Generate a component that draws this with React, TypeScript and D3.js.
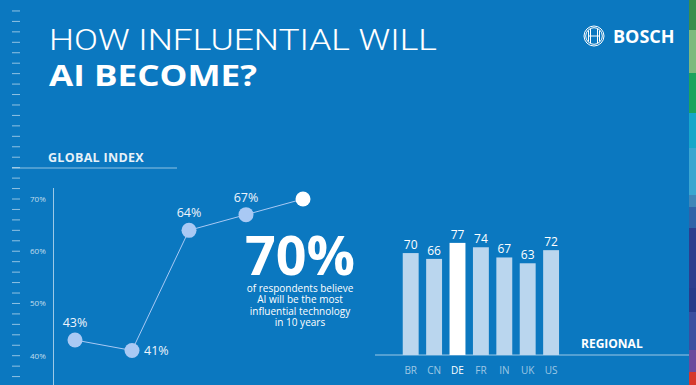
import * as d3 from 'd3';

// global index (share of respondents, %)
const indexSteps = [0, 1, 2, 3, 4];
const indexValues = [43, 41, 64, 67, 70];
const indexTicks = [40, 50, 60, 70];

// regional values
const countries = ['BR', 'CN', 'DE', 'FR', 'IN', 'UK', 'US'];
const regional = [70, 66, 77, 74, 67, 63, 72];
const highlight = 'DE';

const stripeColors = [
  '#3a8d4c', '#7dba7e', '#1ca35d', '#17a7c9', '#3aa6d0', '#3f86b8',
  '#3063a8', '#2c3e8e', '#283b8a', '#3b4fa0', '#6a4b9d', '#d7382b',
];
const stripeStops = [0, 30, 73, 113, 148, 195, 207, 228, 288, 312, 350, 372, 385];

const subText = [
  'of respondents believe',
  'AI will be the most',
  'influential technology',
  'in 10 years',
];

const W = 696;
const H = 385;
const BG = '#0b78c0';
const PALE = '#a9c9f4';
const BAR = '#bad6ee';
const FONT = "'Open Sans', 'DejaVu Sans', sans-serif";

export default function App() {
  const x = d3.scalePoint<number>().domain(indexSteps).range([75, 303]);
  const y = d3.scaleLinear().domain([40, 70]).range([355.7, 199]);
  const minor = d3.range(34, 108, 2);

  const line = d3.line<number>()
    .x((_, i) => x(indexSteps[i]) ?? 0)
    .y(d => y(d));

  const xb = d3.scaleBand<string>()
    .domain(countries)
    .range([399, 562.8])
    .paddingInner(0.32)
    .paddingOuter(0.16);
  const yb = d3.scaleLinear().domain([0, 100]).range([355, 209.4]);

  return (
    <svg width={W} height={H} style={{ position: 'absolute', left: 0, top: 0 }} fontFamily={FONT}>
      <rect width={W} height={H} fill={BG} />

      {/* colour stripe on the right */}
      {stripeColors.map((c, i) => (
        <rect key={c + i} x={689} y={stripeStops[i]} width={7} height={stripeStops[i + 1] - stripeStops[i]} fill={c} />
      ))}

      {/* ruler ticks on the left */}
      {minor.map(v => (
        <line key={v} x1={12} x2={20} y1={y(v)} y2={y(v)} stroke="rgba(255,255,255,0.55)" strokeWidth={1} />
      ))}

      {/* title */}
      <text x={49} y={50} fill="#fff" fontSize={30} fontWeight={300} fontFamily="Roboto, sans-serif"
        textLength={388} lengthAdjust="spacingAndGlyphs">
        HOW INFLUENTIAL WILL
      </text>
      <text x={49} y={86} fill="#fff" fontSize={29} fontWeight={700} textLength={208} lengthAdjust="spacingAndGlyphs">
        AI BECOME?
      </text>

      {/* logo */}
      <g stroke="#fff" fill="none" strokeWidth={1}>
        <circle cx={594} cy={36} r={10} />
        <circle cx={594} cy={36} r={8.3} />
        <path d="M588.5,30.5 v11 M599.5,30.5 v11 M588.5,36 h11" />
        <path d="M590.5,29 v14 M597.5,29 v14" />
      </g>
      <text x={613} y={43} fill="#fff" fontSize={18} fontWeight={700}>BOSCH</text>

      {/* global index */}
      <text x={48} y={162} fill="#fff" fontSize={12.5} fontWeight={700} opacity={0.9} letterSpacing={0.3}>GLOBAL INDEX</text>
      <line x1={12} x2={177} y1={168} y2={168} stroke="rgba(255,255,255,0.55)" />
      <line x1={53.5} x2={53.5} y1={188} y2={H} stroke="rgba(255,255,255,0.6)" />

      {indexTicks.map(t => (
        <text key={t} x={30} y={y(t) + 3} fill="rgba(255,255,255,0.75)" fontSize={8}>{t}%</text>
      ))}

      <path d={line(indexValues) ?? ''} fill="none" stroke={PALE} strokeWidth={1} />
      {indexValues.map((v, i) => (
        <circle key={i} cx={x(indexSteps[i])} cy={y(v)} r={7.5} fill={i === indexValues.length - 1 ? '#fff' : PALE} />
      ))}
      {indexValues.slice(0, -1).map((v, i) => {
        const side = i === 1;
        return (
          <text
            key={i}
            x={(x(indexSteps[i]) ?? 0) + (side ? 12 : 0)}
            y={y(v) + (side ? 5 : -13)}
            textAnchor={side ? 'start' : 'middle'}
            fill="#eef4fc"
            fontSize={12.5}
          >
            {v}%
          </text>
        );
      })}

      {/* headline number */}
      <text x={300} y={275} textAnchor="middle" fill="#fff" fontSize={53} fontWeight={700}
        textLength={110} lengthAdjust="spacingAndGlyphs">
        {indexValues[indexValues.length - 1]}%
      </text>
      {subText.map((s, i) => (
        <text key={s} x={300} y={291.5 + i * 11.6} textAnchor="middle" fill="#fff" fontSize={10}>{s}</text>
      ))}

      {/* regional bars */}
      <line x1={375} x2={689} y1={355} y2={355} stroke="rgba(255,255,255,0.6)" />
      {countries.map((c, i) => (
        <g key={c}>
          <rect
            x={xb(c)}
            y={yb(regional[i])}
            width={xb.bandwidth()}
            height={yb(0) - yb(regional[i])}
            fill={c === highlight ? '#fff' : BAR}
          />
          <text x={(xb(c) ?? 0) + xb.bandwidth() / 2} y={yb(regional[i]) - 4} textAnchor="middle" fill="#fff" fontSize={12}>
            {regional[i]}
          </text>
          <text
            x={(xb(c) ?? 0) + xb.bandwidth() / 2}
            y={374}
            textAnchor="middle"
            fill={c === highlight ? '#fff' : 'rgba(255,255,255,0.6)'}
            fontSize={10}
          >
            {c}
          </text>
        </g>
      ))}
      <text x={581} y={348} fill="#fff" fontSize={12} fontWeight={700}>REGIONAL</text>
    </svg>
  );
}
